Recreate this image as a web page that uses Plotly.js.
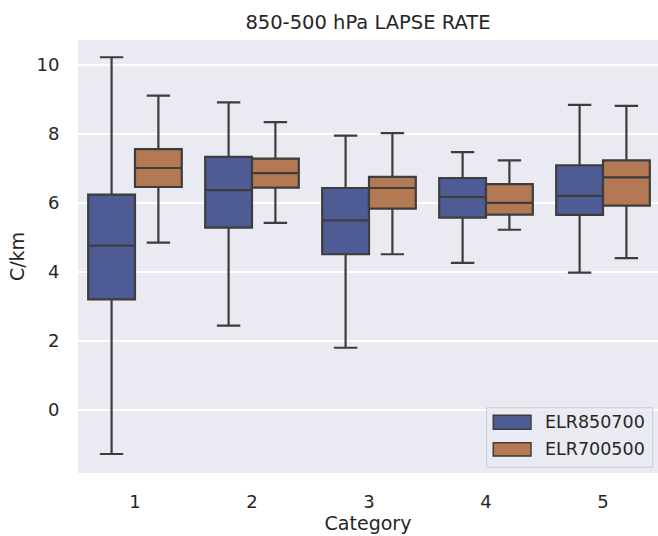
<!DOCTYPE html>
<html>
<head>
<meta charset="utf-8">
<script src="https://cdn.plot.ly/plotly-3.0.1.min.js"></script>
<style>
  html, body { margin: 0; padding: 0; background: #ffffff; overflow: hidden; }
  #chart { width: 658px; height: 536px; }
</style>
</head>
<body>
<div id="chart"></div>
<script>
// Lapse-rate categories on the x axis
const categories = ['1', '2', '3', '4', '5'];
const seriesNames = ['ELR850700', 'ELR700500'];

// ELR850700 box statistics (C/km)
const elr850700Lower  = [-1.28, 2.44, 1.80, 4.26, 3.98];
const elr850700Q1     = [3.20, 5.28, 4.51, 5.57, 5.65];
const elr850700Median = [4.76, 6.37, 5.49, 6.17, 6.20];
const elr850700Q3     = [6.24, 7.33, 6.43, 6.72, 7.09];
const elr850700Upper  = [10.22, 8.91, 7.95, 7.47, 8.84];

// ELR700500 box statistics (C/km)
const elr700500Lower  = [4.85, 5.42, 4.51, 5.22, 4.40];
const elr700500Q1     = [6.46, 6.44, 5.83, 5.66, 5.92];
const elr700500Median = [7.01, 6.86, 6.43, 6.00, 6.74];
const elr700500Q3     = [7.56, 7.28, 6.75, 6.54, 7.23];
const elr700500Upper  = [9.11, 8.34, 8.02, 7.23, 8.81];

const seriesColors = ['#4f5b94', '#b37953'];
const edgeColor = '#3d3d3d';
const textColor = '#262626';
const fontFamily = 'DejaVu Sans, sans-serif';

function boxTrace(name, lower, q1, med, q3, upper, color) {
  return {
    type: 'box',
    name: name,
    x: categories,
    lowerfence: lower,
    q1: q1,
    median: med,
    q3: q3,
    upperfence: upper,
    boxpoints: false,
    fillcolor: color,
    line: { color: edgeColor, width: 2.2 },
    whiskerwidth: 0.5,
    showlegend: false,
    hoverinfo: 'skip'
  };
}

const data = [
  boxTrace(seriesNames[0], elr850700Lower, elr850700Q1, elr850700Median, elr850700Q3, elr850700Upper, seriesColors[0]),
  boxTrace(seriesNames[1], elr700500Lower, elr700500Q1, elr700500Median, elr700500Q3, elr700500Upper, seriesColors[1])
];

// Hand-drawn legend box in the lower-right corner of the plot
const legendFrame = { x0: 0.7047, x1: 0.9909, y0: 0.0132, y1: 0.1508 };
const swatchX = [0.716, 0.781];
const rowY = [[0.1008, 0.1333], [0.0393, 0.0700]];
const textX = 0.802;

const shapes = [{
  type: 'rect', xref: 'paper', yref: 'paper', layer: 'above',
  x0: legendFrame.x0, x1: legendFrame.x1, y0: legendFrame.y0, y1: legendFrame.y1,
  fillcolor: 'rgba(234,234,242,0.85)', line: { color: '#cbcbd3', width: 1 }
}];
const annotations = [];
seriesNames.forEach((n, i) => {
  shapes.push({
    type: 'rect', xref: 'paper', yref: 'paper', layer: 'above',
    x0: swatchX[0], x1: swatchX[1], y0: rowY[i][0], y1: rowY[i][1],
    fillcolor: seriesColors[i], line: { color: edgeColor, width: 1.5 }
  });
  annotations.push({
    xref: 'paper', yref: 'paper', x: textX, y: (rowY[i][0] + rowY[i][1]) / 2,
    xanchor: 'left', yanchor: 'middle', showarrow: false,
    text: n, font: { family: fontFamily, size: 17.5, color: textColor }
  });
});

const layout = {
  width: 658,
  height: 536,
  margin: { l: 78, r: 0, t: 40, b: 63 },
  paper_bgcolor: '#ffffff',
  plot_bgcolor: '#eaeaf2',
  font: { family: fontFamily, color: textColor, size: 18 },
  title: {
    text: '850-500 hPa LAPSE RATE',
    font: { family: fontFamily, size: 19.5, color: textColor },
    x: 0.5, xref: 'paper', xanchor: 'center',
    y: 0.959, yref: 'container', yanchor: 'middle'
  },
  boxmode: 'group',
  boxgap: 0.2,
  boxgroupgap: 0,
  xaxis: {
    type: 'category',
    range: [-0.487, 4.47],
    showgrid: false,
    zeroline: false,
    showline: false,
    ticks: 'outside',
    ticklen: 12,
    tickcolor: 'rgba(0,0,0,0)',
    tickfont: { family: fontFamily, size: 18, color: textColor },
    title: { text: 'Category', font: { family: fontFamily, size: 19, color: textColor }, standoff: 4 },
    automargin: false,
    fixedrange: true
  },
  yaxis: {
    range: [-1.83, 10.72],
    tickvals: [0, 2, 4, 6, 8, 10],
    showgrid: true,
    gridcolor: '#ffffff',
    gridwidth: 1.6,
    zeroline: false,
    showline: false,
    ticks: 'outside',
    ticklen: 14,
    tickcolor: 'rgba(0,0,0,0)',
    tickfont: { family: fontFamily, size: 18, color: textColor },
    title: { text: 'C/km', font: { family: fontFamily, size: 19, color: textColor }, standoff: 6 },
    automargin: false,
    fixedrange: true
  },
  shapes: shapes,
  annotations: annotations,
  showlegend: false
};

Plotly.newPlot('chart', data, layout, { displayModeBar: false, staticPlot: true });
</script>
</body>
</html>
